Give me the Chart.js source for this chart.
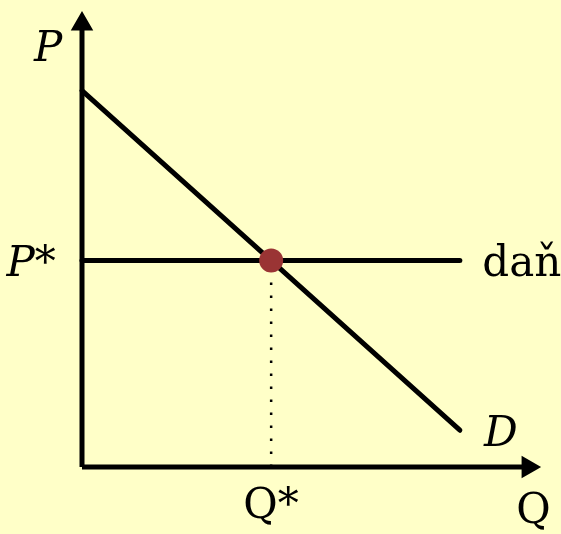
<!DOCTYPE html>
<html>
<head>
<meta charset="utf-8">
<script src="https://cdn.jsdelivr.net/npm/chart.js@4"></script>
<style>
  html, body { margin: 0; padding: 0; background: #ffffc8; }
  #wrap { width: 561px; height: 534px; }
</style>
</head>
<body>
<div id="wrap"><canvas id="chart"></canvas></div>
<script>
// demand curve D and the tax line (dan), in axis units
const demandLine = [{x: 0, y: 8.29}, {x: 8.25, y: 0.81}];
const taxLine = [{x: 0, y: 4.55}, {x: 8.25, y: 4.55}];
const equilibrium = [{x: 4.13, y: 4.55}];
const dropLine = [{x: 4.13, y: 0}, {x: 4.13, y: 4.55}];
const xAxisLine = [{x: 0, y: 0}, {x: 9.74, y: 0}];
const yAxisLine = [{x: 0, y: 0}, {x: 0, y: 9.76}];

// text labels and where they sit
const labelTexts = ['P', 'P*', 'daň', 'D', 'Q', 'Q*'];
const labelX = [-1.05, -1.65, 8.74, 8.78, 9.48, 3.52];
const labelY = [8.95, 4.20, 4.20, 0.46, -1.24, -1.12];
const labelItalic = [true, true, false, true, false, false];

const textPlugin = {
  id: 'texts',
  afterDatasetsDraw(chart) {
    const ctx = chart.ctx;
    const xs = chart.scales.x, ys = chart.scales.y;
    ctx.save();
    ctx.fillStyle = '#000';
    ctx.textBaseline = 'alphabetic';
    ctx.textAlign = 'left';
    labelTexts.forEach((t, i) => {
      ctx.font = (labelItalic[i] ? 'italic ' : '') + '42px "DejaVu Serif", serif';
      ctx.fillText(t, xs.getPixelForValue(labelX[i]), ys.getPixelForValue(labelY[i]));
    });
    ctx.restore();
  }
};

const black = '#000';

new Chart(document.getElementById('chart'), {
  type: 'scatter',
  data: {
    datasets: [
      {
        // equilibrium point, on top
        data: equilibrium, order: 0, pointRadius: 12, pointBackgroundColor: '#9a3434',
        pointBorderColor: '#9a3434', borderWidth: 0, clip: false
      },
      {
        // x axis with arrow
        data: xAxisLine, order: 1, showLine: true, borderColor: black, borderWidth: 5,
        pointRadius: [0, 8], pointStyle: 'triangle', pointRotation: 90,
        pointBackgroundColor: black, pointBorderColor: black, clip: false
      },
      {
        // y axis with arrow
        data: yAxisLine, order: 1, showLine: true, borderColor: black, borderWidth: 5,
        pointRadius: [0, 8], pointStyle: 'triangle', pointRotation: 0,
        pointBackgroundColor: black, pointBorderColor: black, clip: false
      },
      {
        // dotted drop line to Q*
        data: dropLine, order: 1, showLine: true, borderColor: black, borderWidth: 2.5,
        borderDash: [2.5, 10.5], pointRadius: 0, clip: false
      },
      {
        // tax line
        data: taxLine, order: 1, showLine: true, borderColor: black, borderWidth: 5,
        borderCapStyle: 'round', pointRadius: 0, clip: false
      },
      {
        // demand
        data: demandLine, order: 1, showLine: true, borderColor: black, borderWidth: 5,
        borderCapStyle: 'round', pointRadius: 0, clip: false
      }
    ]
  },
  options: {
    responsive: true,
    maintainAspectRatio: false,
    animation: false,
    layout: { padding: { left: 82, right: 21, top: 12, bottom: 67 } },
    scales: {
      x: { type: 'linear', min: 0, max: 10, display: false },
      y: { type: 'linear', min: 0, max: 10, display: false }
    },
    plugins: {
      legend: { display: false },
      tooltip: { enabled: false }
    }
  },
  plugins: [textPlugin]
});
</script>
</body>
</html>
